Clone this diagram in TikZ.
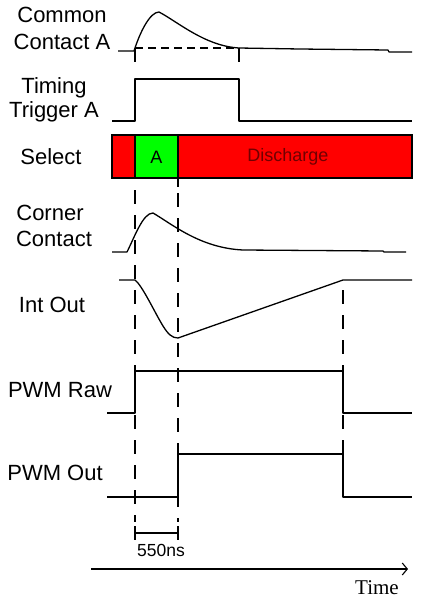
\documentclass[tikz,border=0pt]{standalone}
\usepackage{fontspec}
\setmainfont{Liberation Sans}
\newfontfamily\serifTime{Liberation Serif}
\usetikzlibrary{arrows.meta}
\definecolor{selred}{HTML}{FF0000}
\definecolor{selgreen}{HTML}{00FF00}
\definecolor{dred}{HTML}{700000}
\begin{document}
\begin{tikzpicture}[x=1pt,y=-1pt,
  sig/.style={line width=1.3pt, line join=round},
  dsh/.style={line width=1.2pt, dash pattern=on 14pt off 11pt},
  hdsh/.style={line width=1.2pt, dash pattern=on 8pt off 5pt},
  lbl/.style={font=\fontsize{22}{24}\selectfont, inner sep=0pt},
  small/.style={font=\fontsize{17.5}{19}\selectfont, inner sep=0pt}]
\useasboundingbox (0,0) rectangle (423,600);

% labels
\node[lbl] (l1a) at (62,15) {Common};
\node[lbl] (l1b) at (62,42) {Contact A};
\node[lbl] (l2a) at (54,88) {Timing};
\node[lbl] (l2b) at (54,112) {Trigger A};
\node[lbl] (l3) at (51,157) {Select};
\node[lbl] (l4a) at (50,213) {Corner};
\node[lbl] (l4b) at (54,239) {Contact};
\node[lbl] (l5) at (52,305) {Int Out};
\node[lbl] (l6) at (60,390) {PWM Raw};
\node[lbl] (l7) at (55,473) {PWM Out};

% select bar
\fill[selred] (112,135) rectangle (412,178);
\fill[selgreen] (135,135) rectangle (178,178);
\draw[line width=1.1pt] (112,135) rectangle (412,178);
\draw[line width=1.1pt] (135,135) -- (135,178);
\draw[line width=1.1pt] (178,135) -- (178,187);
\node[font=\fontsize{18}{20}\selectfont, inner sep=0pt] (sa) at (156.5,157) {A};
\node[font=\fontsize{18}{20}\selectfont, inner sep=0pt, text=dred] (sd) at (288,157) {Discharge};

% dashed guides
\draw[hdsh] (135,48) -- (239,48);
\draw[dsh] (135,48) -- (135,70);
\draw[dsh] (239,48) -- (239,70);
\draw[dsh] (135,190) -- (135,522);
\draw[dsh] (178,193) -- (178,522);
\draw[dsh] (343,290) -- (343,462);

% Common Contact A
\draw[sig] (118,51) -- (134,51) .. controls (140,32) and (150,12) .. (159,12)
  .. controls (178,22) and (205,46) .. (239,48) -- (300,49) -- (388,50) -- (389,52) -- (412,52);

% Timing Trigger A
\draw[sig] (112,121) -- (135,121) -- (135,79) -- (239,79) -- (239,121) -- (412,121);

% Corner Contact
\draw[sig] (112,252) -- (127,252) .. controls (135,236) and (143,213) .. (153,213)
  .. controls (172,224) and (200,248) .. (243,250) -- (383,251) -- (384,252) -- (406,252);

% Int Out
\draw[sig] (119,280) -- (135,280) .. controls (142,285) and (155,313) .. (163,326)
  .. controls (168,334) and (172,338) .. (178,338) -- (343,280) -- (412,280);

% PWM Raw
\draw[sig] (107,413) -- (135,413) -- (135,371) -- (343,371) -- (343,413) -- (412,413);

% PWM Out
\draw[sig] (107,497) -- (178,497) -- (178,454) -- (343,454) -- (343,497) -- (412,497);

% 550ns marker
\draw[line width=1.1pt] (135,526) -- (135,540);
\draw[line width=1.1pt] (178,526) -- (178,540);
\draw[line width=1.1pt] (135,533) -- (178,533);
\node[small] (ns) at (161,550) {550ns};

% time axis
\coordinate (t0) at (91,569);
\coordinate (t1) at (408,569);
\draw[line width=1.1pt, -{Straight Barb[length=5pt,width=12pt]}] (t0) -- (t1);
\node[font=\serifTime\fontsize{21}{23}\selectfont, inner sep=0pt] (tm) at (377,588) {Time};
\end{tikzpicture}
\end{document}
